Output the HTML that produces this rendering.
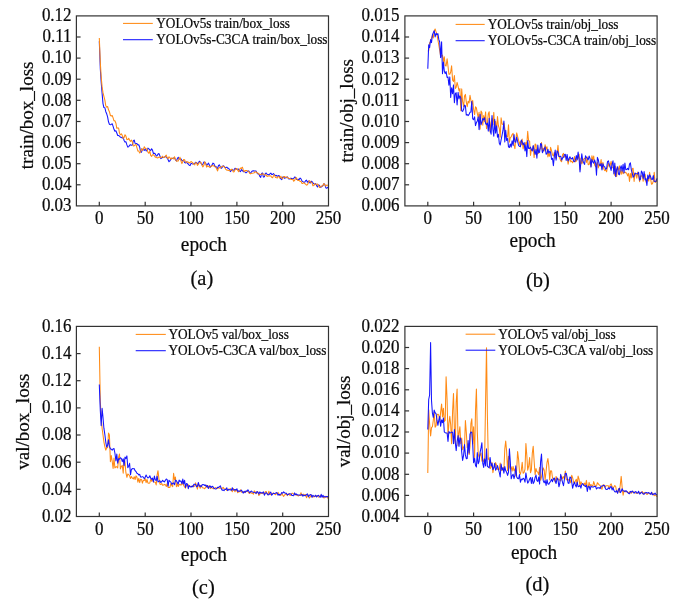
<!DOCTYPE html>
<html><head><meta charset="utf-8"><title>Loss curves</title>
<style>html,body{margin:0;padding:0;background:#fff;}body{width:685px;height:607px;overflow:hidden;font-family:"Liberation Serif",serif;}svg{display:block;will-change:transform;}svg text{stroke:#0a0a0a;stroke-width:.22px;}</style>
</head><body>
<svg width="685" height="607" viewBox="0 0 685 607" font-family="Liberation Serif, serif" fill="#0a0a0a">
<rect width="685" height="607" fill="#fff"/>
<g opacity="0.999">
<path d="M99.3,41.2 L100.3,68.7 L101.2,82.4 L102.1,93.4 L103.0,103.6 L103.9,107.6 L104.9,107.8 L105.8,111.7 L106.7,113.8 L107.6,116.9 L108.5,121.8 L109.4,124.3 L110.4,124.7 L111.3,124.4 L112.2,123.7 L113.1,126.4 L114.0,129.3 L114.9,131.2 L115.9,130.8 L116.8,133.0 L117.7,135.5 L118.6,135.5 L119.5,136.1 L120.4,137.3 L121.4,137.3 L122.3,138.0 L123.2,137.4 L124.1,140.5 L125.0,142.1 L125.9,141.7 L126.9,144.9 L127.8,147.1 L128.7,146.8 L129.6,145.2 L130.5,144.7 L131.4,145.2 L132.4,144.9 L133.3,140.9 L134.2,140.0 L135.1,143.3 L136.0,143.4 L136.9,143.6 L137.9,145.0 L138.8,144.8 L139.7,147.2 L140.6,151.8 L141.5,152.3 L142.4,149.1 L143.4,149.7 L144.3,150.4 L145.2,148.8 L146.1,150.8 L147.0,150.9 L147.9,148.1 L148.9,148.9 L149.8,150.1 L150.7,150.5 L151.6,148.8 L152.5,150.1 L153.4,153.5 L154.4,153.2 L155.3,154.0 L156.2,155.9 L157.1,155.8 L158.0,154.1 L158.9,153.5 L159.9,155.9 L160.8,158.6 L161.7,158.1 L162.6,157.2 L163.5,157.6 L164.4,157.2 L165.4,156.4 L166.3,157.2 L167.2,158.1 L168.1,159.7 L169.0,161.7 L169.9,160.9 L170.9,159.1 L171.8,158.5 L172.7,158.4 L173.6,158.1 L174.5,157.8 L175.4,159.9 L176.4,161.0 L177.3,158.7 L178.2,157.2 L179.1,158.9 L180.0,159.1 L180.9,158.7 L181.9,160.6 L182.8,160.6 L183.7,160.4 L184.6,162.6 L185.5,163.0 L186.4,161.9 L187.4,163.5 L188.3,163.9 L189.2,165.2 L190.1,165.6 L191.0,163.5 L191.9,163.6 L192.9,164.1 L193.8,163.6 L194.7,163.3 L195.6,162.3 L196.5,162.4 L197.4,163.7 L198.4,163.2 L199.3,161.2 L200.2,162.0 L201.1,163.5 L202.0,164.8 L202.9,164.1 L203.9,162.1 L204.8,162.3 L205.7,163.1 L206.6,165.4 L207.5,164.7 L208.4,163.1 L209.4,164.9 L210.3,167.1 L211.2,166.0 L212.1,164.9 L213.0,163.1 L213.9,163.6 L214.9,166.7 L215.8,166.3 L216.7,167.5 L217.6,168.4 L218.5,165.5 L219.4,164.9 L220.4,167.1 L221.3,168.3 L222.2,167.3 L223.1,165.7 L224.0,166.2 L224.9,167.4 L225.9,167.6 L226.8,167.1 L227.7,168.2 L228.6,168.2 L229.5,169.7 L230.4,171.6 L231.4,170.2 L232.3,169.3 L233.2,170.3 L234.1,170.1 L235.0,168.3 L235.9,168.4 L236.9,169.4 L237.8,169.2 L238.7,169.1 L239.6,171.0 L240.5,171.7 L241.4,169.6 L242.4,170.5 L243.3,171.8 L244.2,171.2 L245.1,172.2 L246.0,172.9 L246.9,172.1 L247.9,171.0 L248.8,170.9 L249.7,172.6 L250.6,173.3 L251.5,171.8 L252.4,170.9 L253.4,170.8 L254.3,171.1 L255.2,170.9 L256.1,171.1 L257.0,173.0 L257.9,173.9 L258.9,174.0 L259.8,176.4 L260.7,177.4 L261.6,173.5 L262.5,173.0 L263.4,177.1 L264.4,176.8 L265.3,173.4 L266.2,173.0 L267.1,174.2 L268.0,174.5 L268.9,175.0 L269.9,173.8 L270.8,173.1 L271.7,174.4 L272.6,174.4 L273.5,173.5 L274.4,174.7 L275.4,175.6 L276.3,175.4 L277.2,176.4 L278.1,175.8 L279.0,175.5 L279.9,177.4 L280.9,178.9 L281.8,179.7 L282.7,177.0 L283.6,177.1 L284.5,178.3 L285.4,177.7 L286.4,177.7 L287.3,176.9 L288.2,178.2 L289.1,179.2 L290.0,178.5 L290.9,178.2 L291.9,178.4 L292.8,178.9 L293.7,178.5 L294.6,177.1 L295.5,177.3 L296.4,179.3 L297.4,179.7 L298.3,179.2 L299.2,179.4 L300.1,178.0 L301.0,178.9 L301.9,180.8 L302.9,181.7 L303.8,182.2 L304.7,182.2 L305.6,180.7 L306.5,180.1 L307.4,182.3 L308.4,181.0 L309.3,181.9 L310.2,183.1 L311.1,181.2 L312.0,181.6 L312.9,183.0 L313.9,183.9 L314.8,184.2 L315.7,183.5 L316.6,185.6 L317.5,187.0 L318.4,184.9 L319.4,185.2 L320.3,187.2 L321.2,187.1 L322.1,186.3 L323.0,185.5 L323.9,183.7 L324.9,184.6 L325.8,187.8 L326.7,188.3 L327.6,187.5 L328.5,186.9" fill="none" stroke="#1414ff" stroke-width="1.05" stroke-linejoin="round"/>
<path d="M99.3,38.1 L100.3,62.3 L101.2,77.1 L102.1,86.9 L103.0,92.7 L103.9,96.3 L104.9,100.3 L105.8,105.8 L106.7,107.1 L107.6,106.5 L108.5,109.8 L109.4,111.7 L110.4,115.5 L111.3,116.0 L112.2,115.5 L113.1,117.9 L114.0,120.8 L114.9,120.7 L115.9,123.2 L116.8,128.3 L117.7,127.9 L118.6,128.0 L119.5,133.2 L120.4,134.8 L121.4,133.8 L122.3,135.6 L123.2,138.4 L124.1,137.5 L125.0,134.7 L125.9,136.1 L126.9,139.7 L127.8,139.6 L128.7,138.2 L129.6,140.2 L130.5,141.4 L131.4,140.1 L132.4,142.1 L133.3,145.9 L134.2,145.8 L135.1,144.9 L136.0,144.4 L136.9,147.6 L137.9,151.1 L138.8,151.0 L139.7,153.0 L140.6,151.8 L141.5,148.6 L142.4,150.3 L143.4,149.1 L144.3,146.8 L145.2,148.2 L146.1,149.1 L147.0,148.8 L147.9,152.1 L148.9,153.3 L149.8,150.9 L150.7,155.4 L151.6,156.4 L152.5,154.7 L153.4,154.7 L154.4,155.8 L155.3,157.3 L156.2,157.0 L157.1,157.9 L158.0,157.8 L158.9,157.1 L159.9,157.3 L160.8,157.7 L161.7,157.2 L162.6,156.2 L163.5,157.5 L164.4,157.5 L165.4,156.2 L166.3,155.1 L167.2,157.8 L168.1,158.7 L169.0,156.8 L169.9,157.7 L170.9,159.2 L171.8,157.9 L172.7,158.2 L173.6,158.9 L174.5,156.8 L175.4,159.2 L176.4,161.1 L177.3,161.1 L178.2,161.0 L179.1,158.6 L180.0,157.3 L180.9,160.8 L181.9,163.6 L182.8,161.5 L183.7,159.5 L184.6,159.8 L185.5,162.1 L186.4,162.3 L187.4,161.7 L188.3,162.2 L189.2,163.0 L190.1,162.5 L191.0,161.5 L191.9,162.2 L192.9,163.0 L193.8,164.4 L194.7,164.9 L195.6,162.7 L196.5,162.7 L197.4,165.4 L198.4,164.2 L199.3,162.6 L200.2,162.1 L201.1,162.7 L202.0,165.3 L202.9,166.9 L203.9,165.3 L204.8,161.7 L205.7,163.9 L206.6,167.1 L207.5,165.9 L208.4,166.2 L209.4,167.2 L210.3,166.9 L211.2,166.6 L212.1,165.4 L213.0,165.7 L213.9,166.0 L214.9,166.6 L215.8,167.3 L216.7,169.1 L217.6,170.9 L218.5,168.2 L219.4,167.5 L220.4,167.9 L221.3,166.9 L222.2,166.3 L223.1,166.2 L224.0,166.6 L224.9,167.7 L225.9,169.4 L226.8,170.1 L227.7,170.1 L228.6,170.6 L229.5,170.8 L230.4,169.9 L231.4,169.3 L232.3,169.7 L233.2,171.9 L234.1,171.7 L235.0,169.8 L235.9,168.8 L236.9,168.6 L237.8,170.4 L238.7,171.8 L239.6,169.4 L240.5,168.1 L241.4,168.4 L242.4,167.2 L243.3,169.9 L244.2,171.7 L245.1,170.6 L246.0,170.6 L246.9,170.6 L247.9,171.1 L248.8,171.6 L249.7,173.4 L250.6,173.9 L251.5,173.3 L252.4,173.2 L253.4,173.1 L254.3,172.8 L255.2,171.7 L256.1,172.1 L257.0,172.8 L257.9,173.1 L258.9,174.0 L259.8,174.4 L260.7,174.6 L261.6,174.2 L262.5,173.9 L263.4,173.8 L264.4,175.3 L265.3,175.1 L266.2,174.7 L267.1,176.4 L268.0,176.0 L268.9,176.0 L269.9,175.7 L270.8,175.9 L271.7,177.3 L272.6,177.7 L273.5,175.6 L274.4,174.9 L275.4,177.4 L276.3,177.6 L277.2,178.1 L278.1,176.6 L279.0,176.7 L279.9,178.1 L280.9,176.3 L281.8,178.2 L282.7,178.6 L283.6,176.4 L284.5,176.4 L285.4,177.3 L286.4,177.0 L287.3,177.3 L288.2,178.1 L289.1,178.5 L290.0,178.4 L290.9,179.4 L291.9,179.4 L292.8,179.2 L293.7,181.2 L294.6,180.5 L295.5,178.1 L296.4,177.7 L297.4,180.0 L298.3,180.4 L299.2,180.5 L300.1,181.5 L301.0,181.2 L301.9,183.4 L302.9,183.5 L303.8,182.5 L304.7,183.5 L305.6,184.1 L306.5,185.1 L307.4,184.8 L308.4,182.8 L309.3,180.5 L310.2,181.5 L311.1,182.3 L312.0,182.7 L312.9,185.8 L313.9,185.6 L314.8,183.6 L315.7,184.4 L316.6,184.7 L317.5,184.0 L318.4,185.3 L319.4,187.4 L320.3,187.0 L321.2,186.0 L322.1,186.3 L323.0,185.3 L323.9,183.5 L324.9,185.0 L325.8,186.1 L326.7,185.0 L327.6,185.2 L328.5,185.2" fill="none" stroke="#ff8a14" stroke-width="1.05" stroke-linejoin="round"/>
<rect x="76.4" y="15.9" width="252.1" height="190.0" fill="none" stroke="#333333" stroke-width="1.2"/>
<text transform="translate(71.6,211.2) scale(1,1.06)" font-size="17.0" text-anchor="end">0.03</text>
<line x1="76.4" y1="184.8" x2="80.60000000000001" y2="184.8" stroke="#333333" stroke-width="1.2"/>
<text transform="translate(71.6,190.1) scale(1,1.06)" font-size="17.0" text-anchor="end">0.04</text>
<line x1="76.4" y1="163.7" x2="80.60000000000001" y2="163.7" stroke="#333333" stroke-width="1.2"/>
<text transform="translate(71.6,169.0) scale(1,1.06)" font-size="17.0" text-anchor="end">0.05</text>
<line x1="76.4" y1="142.6" x2="80.60000000000001" y2="142.6" stroke="#333333" stroke-width="1.2"/>
<text transform="translate(71.6,147.9) scale(1,1.06)" font-size="17.0" text-anchor="end">0.06</text>
<line x1="76.4" y1="121.5" x2="80.60000000000001" y2="121.5" stroke="#333333" stroke-width="1.2"/>
<text transform="translate(71.6,126.8) scale(1,1.06)" font-size="17.0" text-anchor="end">0.07</text>
<line x1="76.4" y1="100.3" x2="80.60000000000001" y2="100.3" stroke="#333333" stroke-width="1.2"/>
<text transform="translate(71.6,105.6) scale(1,1.06)" font-size="17.0" text-anchor="end">0.08</text>
<line x1="76.4" y1="79.2" x2="80.60000000000001" y2="79.2" stroke="#333333" stroke-width="1.2"/>
<text transform="translate(71.6,84.5) scale(1,1.06)" font-size="17.0" text-anchor="end">0.09</text>
<line x1="76.4" y1="58.1" x2="80.60000000000001" y2="58.1" stroke="#333333" stroke-width="1.2"/>
<text transform="translate(71.6,63.4) scale(1,1.06)" font-size="17.0" text-anchor="end">0.10</text>
<line x1="76.4" y1="37.0" x2="80.60000000000001" y2="37.0" stroke="#333333" stroke-width="1.2"/>
<text transform="translate(71.6,42.3) scale(1,1.06)" font-size="17.0" text-anchor="end">0.11</text>
<text transform="translate(71.6,21.2) scale(1,1.06)" font-size="17.0" text-anchor="end">0.12</text>
<line x1="99.3" y1="205.9" x2="99.3" y2="201.8" stroke="#333333" stroke-width="1.2"/>
<text transform="translate(99.3,224.3) scale(1,1.06)" font-size="17.0" text-anchor="middle">0</text>
<line x1="145.2" y1="205.9" x2="145.2" y2="201.8" stroke="#333333" stroke-width="1.2"/>
<text transform="translate(145.2,224.3) scale(1,1.06)" font-size="17.0" text-anchor="middle">50</text>
<line x1="191.0" y1="205.9" x2="191.0" y2="201.8" stroke="#333333" stroke-width="1.2"/>
<text transform="translate(191.0,224.3) scale(1,1.06)" font-size="17.0" text-anchor="middle">100</text>
<line x1="236.9" y1="205.9" x2="236.9" y2="201.8" stroke="#333333" stroke-width="1.2"/>
<text transform="translate(236.9,224.3) scale(1,1.06)" font-size="17.0" text-anchor="middle">150</text>
<line x1="282.7" y1="205.9" x2="282.7" y2="201.8" stroke="#333333" stroke-width="1.2"/>
<text transform="translate(282.7,224.3) scale(1,1.06)" font-size="17.0" text-anchor="middle">200</text>
<text transform="translate(328.5,224.3) scale(1,1.06)" font-size="17.0" text-anchor="middle">250</text>
<text transform="translate(32.7,115.4) rotate(-90)" font-size="19" text-anchor="middle">train/box_loss</text>
<text transform="translate(203.9,250.7) scale(1,1.08)" font-size="19.3" text-anchor="middle">epoch</text>
<text transform="translate(201.9,284.6) scale(1,1.06)" font-size="20.5" text-anchor="middle">(a)</text>
<line x1="123" y1="23.4" x2="152.8" y2="23.4" stroke="#ff8a14" stroke-width="1.05"/>
<line x1="123" y1="39.7" x2="152.8" y2="39.7" stroke="#1414ff" stroke-width="1.05"/>
<text transform="translate(156.3,28.0) scale(1,1.08)" font-size="13.27" text-anchor="start">YOLOv5s train/box_loss</text>
<text transform="translate(156.3,44.3) scale(1,1.08)" font-size="13.27" text-anchor="start">YOLOv5s-C3CA train/box_loss</text>
<path d="M427.8,50.9 L428.7,50.8 L429.6,42.8 L430.6,41.6 L431.5,38.2 L432.4,35.4 L433.3,37.9 L434.2,30.9 L435.1,29.0 L436.1,31.9 L437.0,34.3 L437.9,40.0 L438.8,45.0 L439.7,50.5 L440.6,55.9 L441.6,56.1 L442.5,55.1 L443.4,61.8 L444.3,56.8 L445.2,65.6 L446.1,66.0 L447.1,58.7 L448.0,66.3 L448.9,74.2 L449.8,74.3 L450.7,72.0 L451.6,65.7 L452.6,80.2 L453.5,81.5 L454.4,75.6 L455.3,88.5 L456.2,87.2 L457.1,82.4 L458.1,86.4 L459.0,90.7 L459.9,88.6 L460.8,110.7 L461.7,88.9 L462.6,101.5 L463.6,106.6 L464.5,96.0 L465.4,94.4 L466.3,102.1 L467.2,106.7 L468.1,101.3 L469.1,102.9 L470.0,95.3 L470.9,100.3 L471.8,104.7 L472.7,100.4 L473.6,109.3 L474.6,114.6 L475.5,106.8 L476.4,107.8 L477.3,113.3 L478.2,117.4 L479.1,112.2 L480.1,129.1 L481.0,111.0 L481.9,112.5 L482.8,125.3 L483.7,115.5 L484.6,121.8 L485.6,111.9 L486.5,128.6 L487.4,122.6 L488.3,113.7 L489.2,111.7 L490.1,131.9 L491.1,122.7 L492.0,118.4 L492.9,124.6 L493.8,112.4 L494.7,129.6 L495.6,121.2 L496.6,130.2 L497.5,116.5 L498.4,125.7 L499.3,128.5 L500.2,137.2 L501.1,117.8 L502.1,124.0 L503.0,124.6 L503.9,123.0 L504.8,128.3 L505.7,134.7 L506.6,136.3 L507.6,137.0 L508.5,124.8 L509.4,142.1 L510.3,137.6 L511.2,136.9 L512.1,134.5 L513.1,133.3 L514.0,144.9 L514.9,148.6 L515.8,139.2 L516.7,132.9 L517.6,136.4 L518.6,140.4 L519.5,144.4 L520.4,141.3 L521.3,144.8 L522.2,139.0 L523.1,149.0 L524.1,143.9 L525.0,145.8 L525.9,142.3 L526.8,144.6 L527.7,131.3 L528.6,140.8 L529.6,141.1 L530.5,155.5 L531.4,149.0 L532.3,150.4 L533.2,146.1 L534.1,157.6 L535.1,144.0 L536.0,144.8 L536.9,154.5 L537.8,153.5 L538.7,153.1 L539.6,150.0 L540.6,147.9 L541.5,142.5 L542.4,151.8 L543.3,148.2 L544.2,150.9 L545.1,144.7 L546.1,149.0 L547.0,146.8 L547.9,156.9 L548.8,153.6 L549.7,156.3 L550.6,147.3 L551.6,150.9 L552.5,155.0 L553.4,155.9 L554.3,152.4 L555.2,157.4 L556.1,158.5 L557.1,153.1 L558.0,145.4 L558.9,156.6 L559.8,158.1 L560.7,160.8 L561.6,161.7 L562.6,154.5 L563.5,153.4 L564.4,157.1 L565.3,156.0 L566.2,157.1 L567.1,157.3 L568.1,164.2 L569.0,160.2 L569.9,158.2 L570.8,162.0 L571.7,161.0 L572.6,162.7 L573.6,161.0 L574.5,156.5 L575.4,161.8 L576.3,161.0 L577.2,157.4 L578.1,158.3 L579.1,154.3 L580.0,169.8 L580.9,158.2 L581.8,163.8 L582.7,161.6 L583.6,159.1 L584.6,158.3 L585.5,158.7 L586.4,162.5 L587.3,157.0 L588.2,164.8 L589.1,164.4 L590.1,160.8 L591.0,166.4 L591.9,155.7 L592.8,160.4 L593.7,156.0 L594.6,165.0 L595.6,166.6 L596.5,164.5 L597.4,162.4 L598.3,167.9 L599.2,164.2 L600.1,165.9 L601.1,159.6 L602.0,168.9 L602.9,162.2 L603.8,169.1 L604.7,170.6 L605.6,169.7 L606.6,171.8 L607.5,166.6 L608.4,163.3 L609.3,166.9 L610.2,165.2 L611.1,161.4 L612.1,167.1 L613.0,167.7 L613.9,169.8 L614.8,175.5 L615.7,166.3 L616.6,176.6 L617.6,167.3 L618.5,170.2 L619.4,165.9 L620.3,171.0 L621.2,174.3 L622.1,169.8 L623.1,173.8 L624.0,172.6 L624.9,172.0 L625.8,172.8 L626.7,173.2 L627.6,175.9 L628.6,173.4 L629.5,181.4 L630.4,173.6 L631.3,177.9 L632.2,168.8 L633.1,168.3 L634.1,181.4 L635.0,173.1 L635.9,174.3 L636.8,178.2 L637.7,172.0 L638.6,176.1 L639.6,181.7 L640.5,176.1 L641.4,176.1 L642.3,175.5 L643.2,181.3 L644.1,174.3 L645.1,174.2 L646.0,182.2 L646.9,180.7 L647.8,178.8 L648.7,181.1 L649.6,172.3 L650.6,178.9 L651.5,184.2 L652.4,183.7 L653.3,181.2 L654.2,172.2 L655.1,182.5 L656.1,181.7 L657.0,180.6" fill="none" stroke="#ff8a14" stroke-width="1.05" stroke-linejoin="round"/>
<path d="M427.8,68.7 L428.7,44.8 L429.6,47.6 L430.6,39.6 L431.5,42.6 L432.4,35.0 L433.3,32.6 L434.2,30.7 L435.1,36.9 L436.1,33.4 L437.0,34.7 L437.9,33.7 L438.8,39.4 L439.7,42.0 L440.6,57.6 L441.6,41.7 L442.5,73.7 L443.4,62.0 L444.3,71.1 L445.2,73.6 L446.1,71.5 L447.1,77.4 L448.0,77.0 L448.9,85.3 L449.8,76.9 L450.7,97.5 L451.6,87.7 L452.6,93.8 L453.5,84.9 L454.4,102.8 L455.3,93.8 L456.2,92.7 L457.1,104.9 L458.1,92.2 L459.0,98.9 L459.9,95.9 L460.8,97.9 L461.7,110.9 L462.6,111.4 L463.6,109.3 L464.5,105.1 L465.4,105.9 L466.3,115.1 L467.2,114.5 L468.1,115.6 L469.1,114.4 L470.0,112.3 L470.9,112.1 L471.8,101.4 L472.7,118.8 L473.6,119.7 L474.6,116.8 L475.5,125.6 L476.4,122.7 L477.3,120.9 L478.2,116.9 L479.1,129.7 L480.1,114.2 L481.0,124.8 L481.9,122.1 L482.8,118.6 L483.7,119.9 L484.6,117.8 L485.6,123.4 L486.5,124.8 L487.4,123.0 L488.3,131.1 L489.2,118.3 L490.1,130.4 L491.1,134.2 L492.0,115.5 L492.9,129.3 L493.8,136.3 L494.7,119.3 L495.6,133.1 L496.6,125.7 L497.5,137.3 L498.4,134.3 L499.3,143.3 L500.2,145.0 L501.1,139.9 L502.1,135.0 L503.0,130.2 L503.9,121.0 L504.8,141.9 L505.7,130.3 L506.6,140.4 L507.6,138.4 L508.5,146.9 L509.4,147.5 L510.3,144.0 L511.2,147.1 L512.1,140.7 L513.1,145.5 L514.0,134.5 L514.9,141.7 L515.8,142.2 L516.7,137.1 L517.6,141.4 L518.6,145.3 L519.5,146.3 L520.4,146.8 L521.3,140.0 L522.2,142.1 L523.1,144.8 L524.1,142.6 L525.0,150.9 L525.9,144.9 L526.8,156.6 L527.7,140.6 L528.6,148.5 L529.6,148.4 L530.5,147.1 L531.4,149.8 L532.3,151.0 L533.2,145.5 L534.1,150.1 L535.1,154.5 L536.0,149.4 L536.9,158.3 L537.8,145.1 L538.7,152.7 L539.6,152.1 L540.6,143.5 L541.5,144.2 L542.4,152.7 L543.3,150.8 L544.2,149.1 L545.1,146.9 L546.1,154.3 L547.0,153.4 L547.9,149.2 L548.8,153.2 L549.7,151.4 L550.6,152.2 L551.6,159.4 L552.5,158.4 L553.4,165.7 L554.3,156.4 L555.2,150.1 L556.1,160.1 L557.1,150.9 L558.0,152.0 L558.9,156.4 L559.8,156.4 L560.7,156.2 L561.6,160.1 L562.6,158.0 L563.5,157.2 L564.4,154.7 L565.3,154.2 L566.2,160.5 L567.1,154.4 L568.1,161.0 L569.0,158.7 L569.9,156.7 L570.8,158.4 L571.7,159.0 L572.6,157.6 L573.6,161.1 L574.5,161.7 L575.4,160.0 L576.3,155.5 L577.2,159.9 L578.1,152.1 L579.1,159.0 L580.0,172.0 L580.9,162.0 L581.8,153.7 L582.7,160.5 L583.6,162.5 L584.6,164.4 L585.5,155.8 L586.4,157.2 L587.3,158.7 L588.2,159.8 L589.1,156.0 L590.1,158.7 L591.0,167.1 L591.9,159.3 L592.8,161.9 L593.7,163.3 L594.6,160.0 L595.6,163.1 L596.5,175.2 L597.4,157.4 L598.3,159.7 L599.2,164.6 L600.1,165.8 L601.1,163.6 L602.0,169.9 L602.9,163.7 L603.8,166.1 L604.7,166.8 L605.6,169.3 L606.6,168.5 L607.5,161.6 L608.4,160.9 L609.3,164.4 L610.2,166.8 L611.1,170.4 L612.1,164.2 L613.0,160.8 L613.9,174.0 L614.8,163.0 L615.7,176.6 L616.6,169.5 L617.6,166.8 L618.5,174.0 L619.4,174.8 L620.3,168.2 L621.2,165.7 L622.1,171.3 L623.1,164.2 L624.0,172.9 L624.9,163.0 L625.8,169.8 L626.7,169.6 L627.6,168.4 L628.6,169.8 L629.5,164.0 L630.4,162.8 L631.3,169.8 L632.2,172.9 L633.1,177.3 L634.1,175.9 L635.0,173.1 L635.9,173.8 L636.8,173.8 L637.7,173.9 L638.6,172.2 L639.6,180.1 L640.5,179.2 L641.4,171.0 L642.3,172.6 L643.2,178.5 L644.1,171.6 L645.1,179.9 L646.0,178.6 L646.9,185.4 L647.8,175.1 L648.7,178.8 L649.6,174.8 L650.6,176.6 L651.5,179.3 L652.4,179.4 L653.3,175.5 L654.2,181.3 L655.1,181.6 L656.1,181.0 L657.0,178.3" fill="none" stroke="#1414ff" stroke-width="1.05" stroke-linejoin="round"/>
<rect x="404.9" y="15.9" width="252.2" height="190.0" fill="none" stroke="#333333" stroke-width="1.2"/>
<text transform="translate(399.6,211.2) scale(1,1.06)" font-size="17.0" text-anchor="end">0.006</text>
<line x1="404.9" y1="184.8" x2="409.09999999999997" y2="184.8" stroke="#333333" stroke-width="1.2"/>
<text transform="translate(399.6,190.1) scale(1,1.06)" font-size="17.0" text-anchor="end">0.007</text>
<line x1="404.9" y1="163.7" x2="409.09999999999997" y2="163.7" stroke="#333333" stroke-width="1.2"/>
<text transform="translate(399.6,169.0) scale(1,1.06)" font-size="17.0" text-anchor="end">0.008</text>
<line x1="404.9" y1="142.6" x2="409.09999999999997" y2="142.6" stroke="#333333" stroke-width="1.2"/>
<text transform="translate(399.6,147.9) scale(1,1.06)" font-size="17.0" text-anchor="end">0.009</text>
<line x1="404.9" y1="121.5" x2="409.09999999999997" y2="121.5" stroke="#333333" stroke-width="1.2"/>
<text transform="translate(399.6,126.8) scale(1,1.06)" font-size="17.0" text-anchor="end">0.010</text>
<line x1="404.9" y1="100.3" x2="409.09999999999997" y2="100.3" stroke="#333333" stroke-width="1.2"/>
<text transform="translate(399.6,105.6) scale(1,1.06)" font-size="17.0" text-anchor="end">0.011</text>
<line x1="404.9" y1="79.2" x2="409.09999999999997" y2="79.2" stroke="#333333" stroke-width="1.2"/>
<text transform="translate(399.6,84.5) scale(1,1.06)" font-size="17.0" text-anchor="end">0.012</text>
<line x1="404.9" y1="58.1" x2="409.09999999999997" y2="58.1" stroke="#333333" stroke-width="1.2"/>
<text transform="translate(399.6,63.4) scale(1,1.06)" font-size="17.0" text-anchor="end">0.013</text>
<line x1="404.9" y1="37.0" x2="409.09999999999997" y2="37.0" stroke="#333333" stroke-width="1.2"/>
<text transform="translate(399.6,42.3) scale(1,1.06)" font-size="17.0" text-anchor="end">0.014</text>
<text transform="translate(399.6,21.2) scale(1,1.06)" font-size="17.0" text-anchor="end">0.015</text>
<line x1="427.8" y1="205.9" x2="427.8" y2="201.8" stroke="#333333" stroke-width="1.2"/>
<text transform="translate(427.8,224.3) scale(1,1.06)" font-size="17.0" text-anchor="middle">0</text>
<line x1="473.6" y1="205.9" x2="473.6" y2="201.8" stroke="#333333" stroke-width="1.2"/>
<text transform="translate(473.6,224.3) scale(1,1.06)" font-size="17.0" text-anchor="middle">50</text>
<line x1="519.5" y1="205.9" x2="519.5" y2="201.8" stroke="#333333" stroke-width="1.2"/>
<text transform="translate(519.5,224.3) scale(1,1.06)" font-size="17.0" text-anchor="middle">100</text>
<line x1="565.3" y1="205.9" x2="565.3" y2="201.8" stroke="#333333" stroke-width="1.2"/>
<text transform="translate(565.3,224.3) scale(1,1.06)" font-size="17.0" text-anchor="middle">150</text>
<line x1="611.1" y1="205.9" x2="611.1" y2="201.8" stroke="#333333" stroke-width="1.2"/>
<text transform="translate(611.1,224.3) scale(1,1.06)" font-size="17.0" text-anchor="middle">200</text>
<text transform="translate(657.0,224.3) scale(1,1.06)" font-size="17.0" text-anchor="middle">250</text>
<text transform="translate(353,110.8) rotate(-90)" font-size="19" text-anchor="middle">train/obj_loss</text>
<text transform="translate(532.6,247.2) scale(1,1.08)" font-size="19.3" text-anchor="middle">epoch</text>
<text transform="translate(538.0,286.9) scale(1,1.06)" font-size="20.5" text-anchor="middle">(b)</text>
<line x1="455.6" y1="24.4" x2="484.7" y2="24.4" stroke="#ff8a14" stroke-width="1.05"/>
<line x1="455.6" y1="40.7" x2="484.7" y2="40.7" stroke="#1414ff" stroke-width="1.05"/>
<text transform="translate(487.8,29.0) scale(1,1.08)" font-size="13.27" text-anchor="start">YOLOv5s train/obj_loss</text>
<text transform="translate(487.8,45.3) scale(1,1.08)" font-size="13.27" text-anchor="start">YOLOv5s-C3CA train/obj_loss</text>
<path d="M99.3,346.8 L100.3,401.1 L101.2,417.4 L102.1,428.2 L103.0,435.0 L103.9,441.8 L104.9,446.8 L105.8,450.1 L106.7,447.7 L107.6,447.8 L108.5,433.0 L109.4,435.0 L110.4,461.7 L111.3,455.6 L112.2,461.3 L113.1,468.5 L114.0,458.1 L114.9,467.9 L115.9,466.8 L116.8,466.8 L117.7,467.9 L118.6,457.4 L119.5,454.0 L120.4,468.9 L121.4,466.3 L122.3,465.4 L123.2,473.2 L124.1,459.3 L125.0,462.2 L125.9,472.7 L126.9,477.3 L127.8,474.0 L128.7,474.6 L129.6,475.8 L130.5,478.5 L131.4,476.5 L132.4,478.1 L133.3,479.0 L134.2,476.7 L135.1,479.5 L136.0,475.9 L136.9,477.1 L137.9,482.2 L138.8,478.4 L139.7,482.6 L140.6,479.2 L141.5,479.4 L142.4,483.2 L143.4,480.2 L144.3,480.5 L145.2,478.6 L146.1,482.6 L147.0,479.5 L147.9,482.9 L148.9,483.2 L149.8,483.0 L150.7,479.3 L151.6,481.2 L152.5,478.3 L153.4,481.9 L154.4,481.9 L155.3,482.2 L156.2,484.9 L157.1,475.1 L158.0,470.7 L158.9,478.5 L159.9,484.0 L160.8,484.5 L161.7,483.5 L162.6,485.3 L163.5,485.0 L164.4,484.4 L165.4,484.7 L166.3,486.5 L167.2,483.5 L168.1,487.5 L169.0,487.4 L169.9,487.4 L170.9,483.4 L171.8,485.6 L172.7,486.6 L173.6,473.3 L174.5,479.8 L175.4,477.1 L176.4,486.8 L177.3,483.4 L178.2,486.5 L179.1,484.8 L180.0,484.2 L180.9,485.1 L181.9,484.5 L182.8,482.2 L183.7,485.5 L184.6,487.0 L185.5,488.1 L186.4,485.3 L187.4,485.7 L188.3,484.7 L189.2,486.1 L190.1,486.3 L191.0,486.8 L191.9,486.6 L192.9,485.5 L193.8,486.6 L194.7,485.8 L195.6,482.8 L196.5,485.4 L197.4,489.1 L198.4,483.4 L199.3,485.9 L200.2,488.3 L201.1,485.2 L202.0,486.9 L202.9,488.0 L203.9,488.1 L204.8,488.8 L205.7,487.1 L206.6,485.3 L207.5,487.8 L208.4,486.6 L209.4,485.6 L210.3,488.6 L211.2,487.3 L212.1,487.9 L213.0,488.7 L213.9,488.7 L214.9,487.9 L215.8,487.6 L216.7,488.6 L217.6,488.2 L218.5,487.7 L219.4,488.2 L220.4,487.8 L221.3,488.4 L222.2,488.5 L223.1,487.3 L224.0,488.6 L224.9,489.2 L225.9,488.8 L226.8,490.5 L227.7,490.0 L228.6,489.1 L229.5,489.4 L230.4,488.6 L231.4,490.2 L232.3,491.7 L233.2,488.6 L234.1,489.6 L235.0,491.7 L235.9,489.5 L236.9,490.9 L237.8,492.8 L238.7,491.6 L239.6,491.7 L240.5,489.8 L241.4,492.2 L242.4,491.8 L243.3,491.9 L244.2,492.1 L245.1,492.7 L246.0,491.7 L246.9,491.0 L247.9,491.5 L248.8,493.1 L249.7,493.4 L250.6,492.2 L251.5,493.1 L252.4,493.1 L253.4,494.2 L254.3,490.9 L255.2,491.9 L256.1,493.8 L257.0,492.1 L257.9,491.8 L258.9,495.5 L259.8,493.8 L260.7,493.7 L261.6,492.8 L262.5,493.5 L263.4,493.7 L264.4,493.6 L265.3,491.8 L266.2,491.5 L267.1,494.1 L268.0,494.6 L268.9,491.2 L269.9,494.7 L270.8,494.3 L271.7,493.8 L272.6,493.4 L273.5,493.0 L274.4,493.6 L275.4,494.8 L276.3,493.6 L277.2,493.9 L278.1,492.4 L279.0,494.2 L279.9,495.5 L280.9,495.3 L281.8,492.9 L282.7,494.9 L283.6,496.4 L284.5,495.0 L285.4,494.5 L286.4,493.4 L287.3,495.6 L288.2,494.0 L289.1,494.0 L290.0,495.4 L290.9,495.0 L291.9,493.2 L292.8,493.3 L293.7,494.1 L294.6,494.7 L295.5,494.0 L296.4,495.2 L297.4,495.2 L298.3,496.0 L299.2,495.2 L300.1,495.4 L301.0,492.7 L301.9,495.6 L302.9,494.2 L303.8,494.2 L304.7,495.7 L305.6,494.5 L306.5,497.7 L307.4,495.6 L308.4,495.0 L309.3,498.1 L310.2,497.0 L311.1,494.9 L312.0,496.3 L312.9,497.1 L313.9,496.5 L314.8,496.7 L315.7,495.6 L316.6,495.9 L317.5,496.6 L318.4,497.1 L319.4,496.5 L320.3,495.3 L321.2,496.3 L322.1,496.1 L323.0,496.9 L323.9,498.0 L324.9,497.5 L325.8,496.3 L326.7,496.9 L327.6,497.9 L328.5,498.6" fill="none" stroke="#ff8a14" stroke-width="1.05" stroke-linejoin="round"/>
<path d="M99.3,384.5 L100.3,410.6 L101.2,425.8 L102.1,408.3 L103.0,417.4 L103.9,428.2 L104.9,434.8 L105.8,442.3 L106.7,447.1 L107.6,445.3 L108.5,439.7 L109.4,446.4 L110.4,448.7 L111.3,449.3 L112.2,450.1 L113.1,448.9 L114.0,448.5 L114.9,453.0 L115.9,461.0 L116.8,454.1 L117.7,463.2 L118.6,458.8 L119.5,459.1 L120.4,457.7 L121.4,458.6 L122.3,461.6 L123.2,458.7 L124.1,465.8 L125.0,457.1 L125.9,458.6 L126.9,455.9 L127.8,467.8 L128.7,466.2 L129.6,463.3 L130.5,474.8 L131.4,469.5 L132.4,468.6 L133.3,468.7 L134.2,468.6 L135.1,470.7 L136.0,471.6 L136.9,473.2 L137.9,473.8 L138.8,475.0 L139.7,474.4 L140.6,477.0 L141.5,477.1 L142.4,476.6 L143.4,477.1 L144.3,478.8 L145.2,477.3 L146.1,475.0 L147.0,476.7 L147.9,478.0 L148.9,477.4 L149.8,475.8 L150.7,478.2 L151.6,479.3 L152.5,478.1 L153.4,482.0 L154.4,476.0 L155.3,479.9 L156.2,480.5 L157.1,476.2 L158.0,482.0 L158.9,481.2 L159.9,480.8 L160.8,482.5 L161.7,481.7 L162.6,480.3 L163.5,481.3 L164.4,481.9 L165.4,480.3 L166.3,479.0 L167.2,479.6 L168.1,486.2 L169.0,480.2 L169.9,481.4 L170.9,482.1 L171.8,484.4 L172.7,483.4 L173.6,482.9 L174.5,484.8 L175.4,480.1 L176.4,480.8 L177.3,482.4 L178.2,484.1 L179.1,480.1 L180.0,481.4 L180.9,480.9 L181.9,483.8 L182.8,479.1 L183.7,483.9 L184.6,480.3 L185.5,487.4 L186.4,483.5 L187.4,484.0 L188.3,488.7 L189.2,485.5 L190.1,486.6 L191.0,487.1 L191.9,486.0 L192.9,486.9 L193.8,484.3 L194.7,484.2 L195.6,484.6 L196.5,486.7 L197.4,486.2 L198.4,482.5 L199.3,486.2 L200.2,485.7 L201.1,486.8 L202.0,485.0 L202.9,484.5 L203.9,484.7 L204.8,485.5 L205.7,485.1 L206.6,486.9 L207.5,485.5 L208.4,488.4 L209.4,486.6 L210.3,486.0 L211.2,487.8 L212.1,486.2 L213.0,486.7 L213.9,488.2 L214.9,488.8 L215.8,488.9 L216.7,488.5 L217.6,487.3 L218.5,487.5 L219.4,486.7 L220.4,485.9 L221.3,488.7 L222.2,490.3 L223.1,489.9 L224.0,490.6 L224.9,489.5 L225.9,489.4 L226.8,487.8 L227.7,490.6 L228.6,489.5 L229.5,489.7 L230.4,489.7 L231.4,490.2 L232.3,487.8 L233.2,490.1 L234.1,490.0 L235.0,489.5 L235.9,490.1 L236.9,488.7 L237.8,491.7 L238.7,490.8 L239.6,491.2 L240.5,490.9 L241.4,490.1 L242.4,491.7 L243.3,493.1 L244.2,491.2 L245.1,492.4 L246.0,490.9 L246.9,491.4 L247.9,489.7 L248.8,491.3 L249.7,492.7 L250.6,491.6 L251.5,491.0 L252.4,492.1 L253.4,492.3 L254.3,492.6 L255.2,492.8 L256.1,493.4 L257.0,491.5 L257.9,492.3 L258.9,494.1 L259.8,491.9 L260.7,492.9 L261.6,492.8 L262.5,492.9 L263.4,491.9 L264.4,495.2 L265.3,493.2 L266.2,492.7 L267.1,493.4 L268.0,494.9 L268.9,494.6 L269.9,493.2 L270.8,492.1 L271.7,495.3 L272.6,494.1 L273.5,493.3 L274.4,493.4 L275.4,493.2 L276.3,492.6 L277.2,493.0 L278.1,495.2 L279.0,494.2 L279.9,495.0 L280.9,494.0 L281.8,492.6 L282.7,493.1 L283.6,491.9 L284.5,492.8 L285.4,493.2 L286.4,493.3 L287.3,494.9 L288.2,494.5 L289.1,493.8 L290.0,493.7 L290.9,493.9 L291.9,495.4 L292.8,495.6 L293.7,495.7 L294.6,492.9 L295.5,494.8 L296.4,494.0 L297.4,494.9 L298.3,495.0 L299.2,495.1 L300.1,495.3 L301.0,495.0 L301.9,494.3 L302.9,496.3 L303.8,495.1 L304.7,495.5 L305.6,495.7 L306.5,494.7 L307.4,493.9 L308.4,496.7 L309.3,495.4 L310.2,494.5 L311.1,494.8 L312.0,497.2 L312.9,495.3 L313.9,496.2 L314.8,496.3 L315.7,495.2 L316.6,497.0 L317.5,495.8 L318.4,495.3 L319.4,496.8 L320.3,497.2 L321.2,494.3 L322.1,497.3 L323.0,495.2 L323.9,497.1 L324.9,496.4 L325.8,497.1 L326.7,496.5 L327.6,496.6 L328.5,497.8" fill="none" stroke="#1414ff" stroke-width="1.05" stroke-linejoin="round"/>
<rect x="76.4" y="326.4" width="252.1" height="190.1" fill="none" stroke="#333333" stroke-width="1.2"/>
<text transform="translate(71.6,521.8) scale(1,1.06)" font-size="17.0" text-anchor="end">0.02</text>
<line x1="76.4" y1="489.3" x2="80.60000000000001" y2="489.3" stroke="#333333" stroke-width="1.2"/>
<text transform="translate(71.6,494.6) scale(1,1.06)" font-size="17.0" text-anchor="end">0.04</text>
<line x1="76.4" y1="462.2" x2="80.60000000000001" y2="462.2" stroke="#333333" stroke-width="1.2"/>
<text transform="translate(71.6,467.5) scale(1,1.06)" font-size="17.0" text-anchor="end">0.06</text>
<line x1="76.4" y1="435.0" x2="80.60000000000001" y2="435.0" stroke="#333333" stroke-width="1.2"/>
<text transform="translate(71.6,440.3) scale(1,1.06)" font-size="17.0" text-anchor="end">0.08</text>
<line x1="76.4" y1="407.9" x2="80.60000000000001" y2="407.9" stroke="#333333" stroke-width="1.2"/>
<text transform="translate(71.6,413.2) scale(1,1.06)" font-size="17.0" text-anchor="end">0.10</text>
<line x1="76.4" y1="380.7" x2="80.60000000000001" y2="380.7" stroke="#333333" stroke-width="1.2"/>
<text transform="translate(71.6,386.0) scale(1,1.06)" font-size="17.0" text-anchor="end">0.12</text>
<line x1="76.4" y1="353.6" x2="80.60000000000001" y2="353.6" stroke="#333333" stroke-width="1.2"/>
<text transform="translate(71.6,358.9) scale(1,1.06)" font-size="17.0" text-anchor="end">0.14</text>
<text transform="translate(71.6,331.7) scale(1,1.06)" font-size="17.0" text-anchor="end">0.16</text>
<line x1="99.3" y1="516.5" x2="99.3" y2="512.4" stroke="#333333" stroke-width="1.2"/>
<text transform="translate(99.3,534.9) scale(1,1.06)" font-size="17.0" text-anchor="middle">0</text>
<line x1="145.2" y1="516.5" x2="145.2" y2="512.4" stroke="#333333" stroke-width="1.2"/>
<text transform="translate(145.2,534.9) scale(1,1.06)" font-size="17.0" text-anchor="middle">50</text>
<line x1="191.0" y1="516.5" x2="191.0" y2="512.4" stroke="#333333" stroke-width="1.2"/>
<text transform="translate(191.0,534.9) scale(1,1.06)" font-size="17.0" text-anchor="middle">100</text>
<line x1="236.9" y1="516.5" x2="236.9" y2="512.4" stroke="#333333" stroke-width="1.2"/>
<text transform="translate(236.9,534.9) scale(1,1.06)" font-size="17.0" text-anchor="middle">150</text>
<line x1="282.7" y1="516.5" x2="282.7" y2="512.4" stroke="#333333" stroke-width="1.2"/>
<text transform="translate(282.7,534.9) scale(1,1.06)" font-size="17.0" text-anchor="middle">200</text>
<text transform="translate(328.5,534.9) scale(1,1.06)" font-size="17.0" text-anchor="middle">250</text>
<text transform="translate(28.8,421.6) rotate(-90)" font-size="19" text-anchor="middle">val/box_loss</text>
<text transform="translate(203.9,561.4) scale(1,1.08)" font-size="19.3" text-anchor="middle">epoch</text>
<text transform="translate(203.4,594.3) scale(1,1.06)" font-size="20.5" text-anchor="middle">(c)</text>
<line x1="135.7" y1="334.4" x2="165.8" y2="334.4" stroke="#ff8a14" stroke-width="1.05"/>
<line x1="135.7" y1="350.7" x2="165.8" y2="350.7" stroke="#1414ff" stroke-width="1.05"/>
<text transform="translate(168.4,339.0) scale(1,1.08)" font-size="13.27" text-anchor="start">YOLOv5 val/box_loss</text>
<text transform="translate(168.4,355.3) scale(1,1.08)" font-size="13.27" text-anchor="start">YOLOv5-C3CA val/box_loss</text>
<path d="M427.8,472.9 L428.7,409.8 L429.6,423.5 L430.6,436.0 L431.5,427.7 L432.4,426.7 L433.3,420.3 L434.2,412.2 L435.1,427.2 L436.1,425.6 L437.0,414.9 L437.9,414.2 L438.8,415.2 L439.7,422.0 L440.6,412.4 L441.6,404.1 L442.5,416.9 L443.4,408.3 L444.3,421.4 L445.2,420.4 L446.1,376.7 L447.1,400.3 L448.0,436.1 L448.9,423.7 L449.8,416.2 L450.7,424.9 L451.6,443.8 L452.6,410.9 L453.5,393.5 L454.4,429.1 L455.3,443.6 L456.2,402.4 L457.1,389.0 L458.1,445.4 L459.0,432.9 L459.9,426.7 L460.8,443.6 L461.7,438.1 L462.6,449.7 L463.6,446.9 L464.5,446.4 L465.4,420.6 L466.3,432.0 L467.2,447.8 L468.1,443.5 L469.1,454.6 L470.0,446.4 L470.9,423.6 L471.8,418.8 L472.7,444.0 L473.6,426.7 L474.6,457.4 L475.5,410.9 L476.4,389.0 L477.3,432.0 L478.2,453.8 L479.1,457.2 L480.1,455.1 L481.0,452.9 L481.9,461.3 L482.8,458.7 L483.7,461.7 L484.6,460.1 L485.6,400.3 L486.5,347.7 L487.4,416.2 L488.3,459.3 L489.2,458.9 L490.1,468.6 L491.1,467.2 L492.0,462.4 L492.9,472.7 L493.8,467.7 L494.7,467.0 L495.6,462.6 L496.6,465.4 L497.5,469.3 L498.4,469.7 L499.3,469.5 L500.2,463.1 L501.1,470.6 L502.1,470.1 L503.0,467.7 L503.9,469.4 L504.8,448.9 L505.7,441.0 L506.6,451.0 L507.6,470.6 L508.5,456.3 L509.4,466.6 L510.3,469.1 L511.2,466.9 L512.1,471.1 L513.1,466.4 L514.0,470.7 L514.9,468.9 L515.8,475.9 L516.7,469.8 L517.6,451.5 L518.6,459.5 L519.5,472.2 L520.4,474.2 L521.3,470.1 L522.2,462.2 L523.1,473.3 L524.1,472.3 L525.0,469.1 L525.9,443.6 L526.8,455.2 L527.7,470.2 L528.6,466.7 L529.6,457.6 L530.5,472.8 L531.4,469.8 L532.3,453.1 L533.2,446.2 L534.1,460.5 L535.1,474.8 L536.0,468.6 L536.9,471.6 L537.8,472.1 L538.7,474.8 L539.6,467.4 L540.6,480.3 L541.5,477.2 L542.4,471.9 L543.3,467.9 L544.2,470.3 L545.1,480.0 L546.1,470.9 L547.0,462.6 L547.9,458.5 L548.8,465.8 L549.7,479.9 L550.6,470.7 L551.6,471.0 L552.5,477.7 L553.4,479.5 L554.3,479.1 L555.2,482.1 L556.1,476.4 L557.1,479.5 L558.0,478.6 L558.9,480.0 L559.8,479.7 L560.7,480.9 L561.6,476.1 L562.6,478.8 L563.5,476.6 L564.4,478.5 L565.3,471.1 L566.2,479.4 L567.1,480.1 L568.1,479.3 L569.0,480.3 L569.9,480.5 L570.8,482.8 L571.7,475.3 L572.6,477.6 L573.6,482.3 L574.5,483.3 L575.4,480.9 L576.3,479.2 L577.2,484.9 L578.1,476.1 L579.1,479.5 L580.0,486.3 L580.9,481.7 L581.8,483.4 L582.7,483.4 L583.6,485.2 L584.6,483.1 L585.5,485.2 L586.4,480.4 L587.3,486.7 L588.2,487.1 L589.1,482.4 L590.1,486.0 L591.0,484.6 L591.9,485.3 L592.8,486.2 L593.7,481.6 L594.6,484.4 L595.6,486.2 L596.5,486.1 L597.4,482.7 L598.3,483.8 L599.2,484.9 L600.1,485.6 L601.1,487.5 L602.0,489.2 L602.9,484.9 L603.8,484.8 L604.7,487.3 L605.6,486.1 L606.6,485.8 L607.5,485.8 L608.4,485.8 L609.3,488.6 L610.2,485.0 L611.1,483.8 L612.1,486.6 L613.0,487.6 L613.9,487.1 L614.8,485.5 L615.7,486.5 L616.6,491.7 L617.6,493.0 L618.5,488.5 L619.4,492.3 L620.3,484.8 L621.2,476.4 L622.1,486.9 L623.1,495.2 L624.0,490.8 L624.9,491.4 L625.8,491.7 L626.7,491.5 L627.6,492.3 L628.6,492.8 L629.5,491.9 L630.4,492.6 L631.3,493.2 L632.2,491.7 L633.1,492.2 L634.1,491.9 L635.0,493.0 L635.9,492.9 L636.8,493.2 L637.7,493.2 L638.6,492.5 L639.6,493.3 L640.5,492.5 L641.4,492.6 L642.3,491.5 L643.2,494.1 L644.1,492.5 L645.1,493.3 L646.0,493.3 L646.9,494.5 L647.8,493.8 L648.7,493.0 L649.6,493.7 L650.6,493.7 L651.5,494.0 L652.4,493.0 L653.3,494.0 L654.2,495.7 L655.1,494.7 L656.1,495.7 L657.0,496.7" fill="none" stroke="#ff8a14" stroke-width="1.05" stroke-linejoin="round"/>
<path d="M427.8,429.4 L428.7,399.5 L429.6,395.0 L430.6,342.6 L431.5,400.3 L432.4,413.1 L433.3,417.5 L434.2,410.1 L435.1,412.7 L436.1,413.9 L437.0,420.2 L437.9,425.3 L438.8,420.2 L439.7,416.4 L440.6,426.3 L441.6,419.9 L442.5,422.7 L443.4,418.0 L444.3,431.8 L445.2,432.7 L446.1,432.9 L447.1,432.9 L448.0,441.4 L448.9,431.4 L449.8,432.9 L450.7,432.7 L451.6,432.1 L452.6,432.2 L453.5,443.7 L454.4,429.6 L455.3,442.8 L456.2,450.6 L457.1,441.7 L458.1,435.6 L459.0,446.4 L459.9,437.8 L460.8,439.1 L461.7,452.0 L462.6,460.4 L463.6,455.3 L464.5,444.6 L465.4,454.9 L466.3,458.7 L467.2,458.4 L468.1,440.5 L469.1,453.3 L470.0,434.1 L470.9,432.0 L471.8,432.2 L472.7,444.7 L473.6,462.7 L474.6,458.3 L475.5,465.5 L476.4,467.0 L477.3,452.6 L478.2,463.8 L479.1,461.5 L480.1,452.3 L481.0,447.9 L481.9,442.7 L482.8,463.4 L483.7,467.4 L484.6,458.9 L485.6,465.9 L486.5,448.8 L487.4,466.4 L488.3,467.0 L489.2,467.8 L490.1,457.4 L491.1,466.0 L492.0,463.4 L492.9,469.6 L493.8,467.7 L494.7,463.3 L495.6,470.3 L496.6,468.4 L497.5,465.6 L498.4,468.8 L499.3,472.5 L500.2,477.0 L501.1,464.0 L502.1,470.0 L503.0,467.8 L503.9,473.1 L504.8,466.6 L505.7,470.6 L506.6,472.3 L507.6,475.4 L508.5,472.0 L509.4,448.8 L510.3,461.6 L511.2,478.8 L512.1,475.8 L513.1,474.2 L514.0,478.7 L514.9,475.1 L515.8,465.8 L516.7,477.0 L517.6,478.4 L518.6,478.8 L519.5,474.6 L520.4,482.3 L521.3,479.1 L522.2,479.8 L523.1,478.3 L524.1,479.0 L525.0,482.2 L525.9,472.9 L526.8,478.5 L527.7,483.1 L528.6,481.8 L529.6,479.0 L530.5,477.5 L531.4,483.4 L532.3,477.4 L533.2,483.6 L534.1,482.1 L535.1,477.4 L536.0,475.1 L536.9,480.6 L537.8,481.5 L538.7,477.0 L539.6,484.1 L540.6,461.6 L541.5,454.1 L542.4,472.1 L543.3,480.9 L544.2,482.8 L545.1,480.4 L546.1,485.4 L547.0,479.5 L547.9,483.8 L548.8,484.3 L549.7,482.6 L550.6,481.2 L551.6,479.2 L552.5,481.7 L553.4,478.8 L554.3,478.0 L555.2,481.0 L556.1,483.5 L557.1,477.9 L558.0,479.8 L558.9,486.8 L559.8,483.5 L560.7,474.3 L561.6,478.5 L562.6,482.6 L563.5,485.7 L564.4,479.4 L565.3,473.4 L566.2,473.2 L567.1,477.3 L568.1,483.1 L569.0,483.4 L569.9,477.0 L570.8,477.4 L571.7,481.8 L572.6,488.3 L573.6,484.2 L574.5,482.1 L575.4,485.3 L576.3,487.0 L577.2,482.0 L578.1,486.7 L579.1,486.3 L580.0,485.5 L580.9,488.2 L581.8,484.3 L582.7,483.6 L583.6,485.0 L584.6,485.8 L585.5,486.6 L586.4,485.0 L587.3,491.4 L588.2,486.7 L589.1,486.2 L590.1,489.8 L591.0,486.1 L591.9,487.0 L592.8,487.0 L593.7,486.9 L594.6,486.2 L595.6,486.5 L596.5,489.0 L597.4,487.7 L598.3,487.9 L599.2,487.6 L600.1,488.7 L601.1,486.3 L602.0,485.9 L602.9,485.7 L603.8,485.2 L604.7,485.9 L605.6,489.1 L606.6,489.5 L607.5,489.2 L608.4,487.8 L609.3,489.0 L610.2,487.4 L611.1,486.4 L612.1,489.9 L613.0,487.8 L613.9,490.2 L614.8,491.8 L615.7,491.9 L616.6,490.6 L617.6,493.3 L618.5,489.7 L619.4,488.2 L620.3,492.6 L621.2,491.5 L622.1,488.7 L623.1,490.7 L624.0,491.0 L624.9,491.6 L625.8,490.7 L626.7,491.3 L627.6,492.4 L628.6,493.5 L629.5,493.8 L630.4,491.4 L631.3,492.2 L632.2,491.0 L633.1,491.8 L634.1,493.1 L635.0,492.1 L635.9,491.5 L636.8,493.1 L637.7,492.9 L638.6,491.3 L639.6,494.0 L640.5,493.6 L641.4,492.1 L642.3,492.8 L643.2,493.9 L644.1,494.2 L645.1,492.9 L646.0,492.4 L646.9,492.8 L647.8,493.2 L648.7,492.5 L649.6,493.4 L650.6,494.3 L651.5,492.3 L652.4,494.8 L653.3,494.1 L654.2,494.1 L655.1,493.1 L656.1,494.8 L657.0,494.5" fill="none" stroke="#1414ff" stroke-width="1.05" stroke-linejoin="round"/>
<rect x="404.9" y="326.4" width="252.2" height="190.1" fill="none" stroke="#333333" stroke-width="1.2"/>
<text transform="translate(399.6,521.8) scale(1,1.06)" font-size="17.0" text-anchor="end">0.004</text>
<line x1="404.9" y1="495.4" x2="409.09999999999997" y2="495.4" stroke="#333333" stroke-width="1.2"/>
<text transform="translate(399.6,500.7) scale(1,1.06)" font-size="17.0" text-anchor="end">0.006</text>
<line x1="404.9" y1="474.3" x2="409.09999999999997" y2="474.3" stroke="#333333" stroke-width="1.2"/>
<text transform="translate(399.6,479.6) scale(1,1.06)" font-size="17.0" text-anchor="end">0.008</text>
<line x1="404.9" y1="453.1" x2="409.09999999999997" y2="453.1" stroke="#333333" stroke-width="1.2"/>
<text transform="translate(399.6,458.4) scale(1,1.06)" font-size="17.0" text-anchor="end">0.010</text>
<line x1="404.9" y1="432.0" x2="409.09999999999997" y2="432.0" stroke="#333333" stroke-width="1.2"/>
<text transform="translate(399.6,437.3) scale(1,1.06)" font-size="17.0" text-anchor="end">0.012</text>
<line x1="404.9" y1="410.9" x2="409.09999999999997" y2="410.9" stroke="#333333" stroke-width="1.2"/>
<text transform="translate(399.6,416.2) scale(1,1.06)" font-size="17.0" text-anchor="end">0.014</text>
<line x1="404.9" y1="389.8" x2="409.09999999999997" y2="389.8" stroke="#333333" stroke-width="1.2"/>
<text transform="translate(399.6,395.1) scale(1,1.06)" font-size="17.0" text-anchor="end">0.016</text>
<line x1="404.9" y1="368.6" x2="409.09999999999997" y2="368.6" stroke="#333333" stroke-width="1.2"/>
<text transform="translate(399.6,373.9) scale(1,1.06)" font-size="17.0" text-anchor="end">0.018</text>
<line x1="404.9" y1="347.5" x2="409.09999999999997" y2="347.5" stroke="#333333" stroke-width="1.2"/>
<text transform="translate(399.6,352.8) scale(1,1.06)" font-size="17.0" text-anchor="end">0.020</text>
<text transform="translate(399.6,331.7) scale(1,1.06)" font-size="17.0" text-anchor="end">0.022</text>
<line x1="427.8" y1="516.5" x2="427.8" y2="512.4" stroke="#333333" stroke-width="1.2"/>
<text transform="translate(427.8,534.9) scale(1,1.06)" font-size="17.0" text-anchor="middle">0</text>
<line x1="473.6" y1="516.5" x2="473.6" y2="512.4" stroke="#333333" stroke-width="1.2"/>
<text transform="translate(473.6,534.9) scale(1,1.06)" font-size="17.0" text-anchor="middle">50</text>
<line x1="519.5" y1="516.5" x2="519.5" y2="512.4" stroke="#333333" stroke-width="1.2"/>
<text transform="translate(519.5,534.9) scale(1,1.06)" font-size="17.0" text-anchor="middle">100</text>
<line x1="565.3" y1="516.5" x2="565.3" y2="512.4" stroke="#333333" stroke-width="1.2"/>
<text transform="translate(565.3,534.9) scale(1,1.06)" font-size="17.0" text-anchor="middle">150</text>
<line x1="611.1" y1="516.5" x2="611.1" y2="512.4" stroke="#333333" stroke-width="1.2"/>
<text transform="translate(611.1,534.9) scale(1,1.06)" font-size="17.0" text-anchor="middle">200</text>
<text transform="translate(657.0,534.9) scale(1,1.06)" font-size="17.0" text-anchor="middle">250</text>
<text transform="translate(350,421.4) rotate(-90)" font-size="19" text-anchor="middle">val/obj_loss</text>
<text transform="translate(534.0,559.3) scale(1,1.08)" font-size="19.3" text-anchor="middle">epoch</text>
<text transform="translate(537.5,590.8) scale(1,1.06)" font-size="20.5" text-anchor="middle">(d)</text>
<line x1="465.6" y1="334.2" x2="495.3" y2="334.2" stroke="#ff8a14" stroke-width="1.05"/>
<line x1="465.6" y1="350.2" x2="495.3" y2="350.2" stroke="#1414ff" stroke-width="1.05"/>
<text transform="translate(498.2,338.8) scale(1,1.08)" font-size="13.27" text-anchor="start">YOLOv5 val/obj_loss</text>
<text transform="translate(498.2,354.8) scale(1,1.08)" font-size="13.27" text-anchor="start">YOLOv5-C3CA val/obj_loss</text>
</g></svg>
</body></html>
